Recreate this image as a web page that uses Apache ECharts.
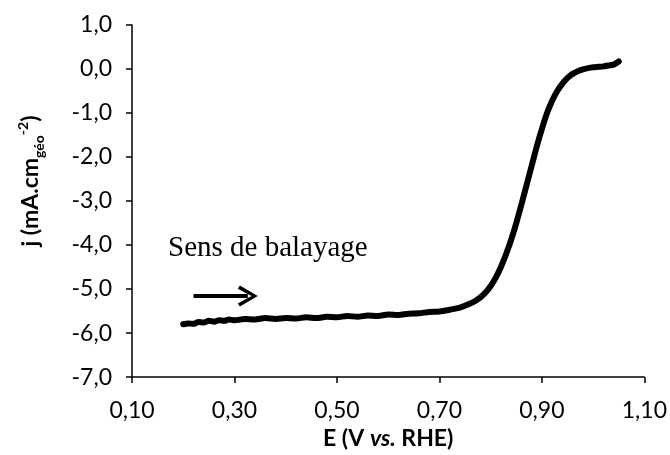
<!DOCTYPE html>
<html>
<head>
<meta charset="utf-8">
<script src="https://cdn.jsdelivr.net/npm/echarts@6/dist/echarts.min.js"></script>
<style>
  html, body { margin: 0; padding: 0; background: #fff; }
  #chart { width: 670px; height: 455px; }
</style>
</head>
<body>
<div id="chart"></div>
<script>
// potentiel (V vs. RHE) et densite de courant (mA.cm-2)
var potential = [0.20,0.21,0.22,0.23,0.24,0.25,0.26,0.27,0.28,0.29,0.30,0.32,0.34,0.36,0.38,0.40,0.42,0.44,0.46,0.48,0.50,0.52,0.54,0.56,0.58,0.60,0.62,0.64,0.66,0.68,0.70,0.72,0.74,0.76,0.77,0.78,0.79,0.80,0.81,0.82,0.83,0.84,0.85,0.86,0.87,0.88,0.89,0.90,0.91,0.92,0.93,0.94,0.95,0.96,0.97,0.98,0.99,1.00,1.01,1.02,1.03,1.04,1.05]
var current = [-5.80,-5.78,-5.79,-5.75,-5.76,-5.72,-5.74,-5.71,-5.72,-5.69,-5.71,-5.68,-5.69,-5.66,-5.68,-5.66,-5.67,-5.64,-5.66,-5.63,-5.64,-5.61,-5.63,-5.60,-5.61,-5.58,-5.59,-5.56,-5.55,-5.52,-5.51,-5.47,-5.42,-5.33,-5.27,-5.19,-5.08,-4.93,-4.74,-4.50,-4.21,-3.88,-3.50,-3.08,-2.64,-2.20,-1.76,-1.36,-1.00,-0.72,-0.50,-0.33,-0.20,-0.11,-0.05,-0.01,0.02,0.04,0.05,0.06,0.08,0.10,0.17]

var xTicks = [0.10, 0.30, 0.50, 0.70, 0.90, 1.10]
var arrowStart = [0.22, -5.16]
var arrowEnd = [0.326, -5.16]
var noteText = 'Sens de balayage'

var points = potential.map(function (e, i) { return [e, current[i]] })
var comma = function (v, d) { return v.toFixed(d).replace('.', ',') }

var chart = echarts.init(document.getElementById('chart'))
chart.setOption({
  animation: false,
  backgroundColor: '#fff',
  grid: { left: 132, right: 25, top: 25, bottom: 74 },
  xAxis: {
    type: 'value',
    min: 0.1,
    max: 1.1,
    name: 'E (V {i|vs.} RHE)',
    nameLocation: 'middle',
    nameGap: 47,
    nameTextStyle: {
      fontFamily: 'Lato', fontSize: 23, fontWeight: 'bold', color: '#000',
      rich: { i: { fontFamily: 'Lato', fontSize: 23, fontWeight: 'bold', fontStyle: 'italic', color: '#000' } }
    },
    axisLine: { onZero: false, lineStyle: { color: '#000', width: 1.5 } },
    axisTick: { customValues: xTicks, length: 6, lineStyle: { color: '#000', width: 1.5 } },
    axisLabel: {
      customValues: xTicks, margin: 22, fontFamily: 'Lato', fontSize: 23, color: '#000',
      formatter: function (v) { return comma(v, 2) }
    },
    splitLine: { show: false }
  },
  yAxis: {
    type: 'value',
    min: -7,
    max: 1,
    interval: 1,
    name: '{b|j (mA.cm}{sub|géo}{sup|-2}{b|)}',
    nameLocation: 'middle',
    nameRotate: 90,
    nameGap: 86,
    nameTextStyle: {
      padding: [0, 0, 0, 40],
      rich: {
        b: { fontFamily: 'Lato', fontSize: 23, fontWeight: 'bold', color: '#000', lineHeight: 30, verticalAlign: 'middle' },
        sub: { fontFamily: 'Lato', fontSize: 14, fontWeight: 'bold', color: '#000', lineHeight: 30, verticalAlign: 'bottom' },
        sup: { fontFamily: 'Lato', fontSize: 14, fontWeight: 'bold', color: '#000', lineHeight: 30, verticalAlign: 'top' }
      }
    },
    axisLine: { show: true, lineStyle: { color: '#000', width: 1.5 } },
    axisTick: { show: true, length: 6, lineStyle: { color: '#000', width: 1.5 } },
    axisLabel: {
      margin: 20, fontFamily: 'Lato', fontSize: 23, color: '#000',
      formatter: function (v) { return comma(v, 1) }
    },
    splitLine: { show: false }
  },
  series: [{
    type: 'line',
    data: points,
    showSymbol: false,
    smooth: 0.3,
    lineStyle: { color: '#000', width: 6, cap: 'round', join: 'round' },
    markLine: {
      silent: true,
      symbol: ['none', 'path://M10,0 L20,17 L17,19 L10,6 L3,19 L0,17 Z'],
      symbolSize: [21, 20],
      label: { show: false },
      lineStyle: { color: '#000', width: 4, type: 'solid' },
      data: [[{ coord: arrowStart }, { coord: arrowEnd }]]
    }
  }],
  graphic: [{
    type: 'text',
    left: 168,
    top: 234,
    style: { text: noteText, fontFamily: 'Liberation Serif', fontSize: 29, fill: '#000' }
  }]
})
</script>
</body>
</html>
